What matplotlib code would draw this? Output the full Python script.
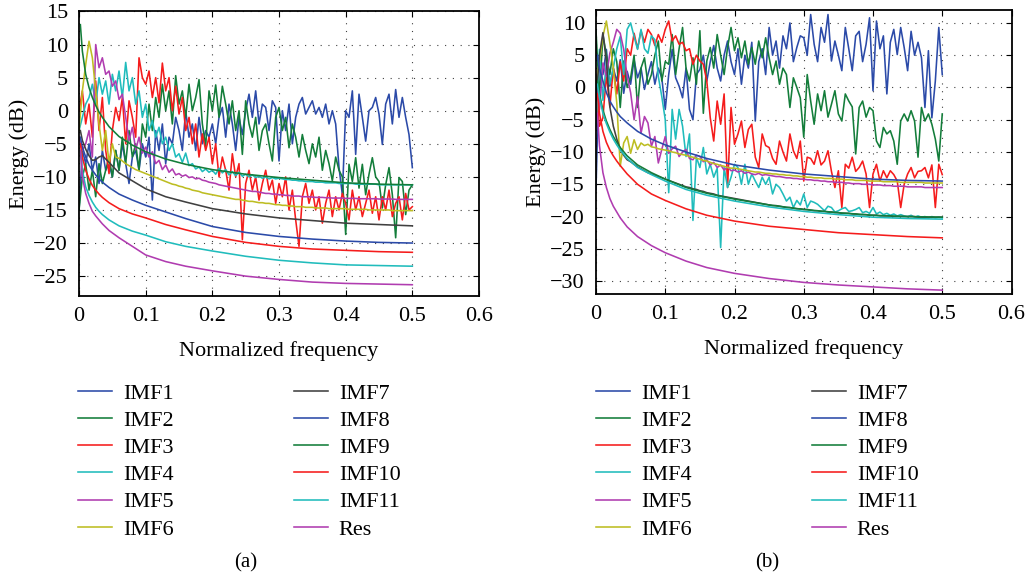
import numpy as np
import matplotlib
matplotlib.use("Agg")
import matplotlib.pyplot as plt

plt.rcParams['font.family'] = ['Liberation Serif', 'DejaVu Serif']
plt.rcParams['font.size'] = 16

labels = ['IMF1', 'IMF2', 'IMF3', 'IMF4', 'IMF5', 'IMF6',
          'IMF7', 'IMF8', 'IMF9', 'IMF10', 'IMF11', 'Res']
colors = ['#2b4aa8', '#137d3a', '#f51c1c', '#20bcbc', '#b03cb0', '#bdbd22',
          '#404040', '#2b4aa8', '#137d3a', '#f51c1c', '#20bcbc', '#b03cb0']

# frequency grid of the noisy spectra (step 0.005)
freq = np.arange(101) * 0.005
# frequencies where the smooth curves were read
knots = [0.002, 0.005, 0.01, 0.015, 0.02, 0.025, 0.03, 0.035, 0.045, 0.06, 0.08,
         0.1, 0.13, 0.16, 0.2, 0.25, 0.3, 0.35, 0.4, 0.45, 0.5]

# ---------------- panel (a) ----------------
a_imf1 = [-15, -6, -8, -5, -9, -7, -11, -6, -9, -8,
          -10, -6, -9, -5, -8, -11, -7, -6, -9, -5,
          -7, -4, -13.5, -3, -6, -2, -8, -4, -5, -1,
          -3, -6, 0, -4, -2, -6, -1, -5, -3, -4,
          -2, -5, -1, 0.5, -4, 1, -2, -6, -1, -3.6,
          0, 2.5, -1, 3, -2, 1, 0.5, -3, 1.5, 0.5,
          -7.6, 0, -3, 1, -5, -1, 1, 2, -0.5, 0.5,
          1.5, -0.5, 0.5, -1, 1, -2, 0, -2, -8.6, -12.7,
          0, -1, 3, -6.6, 2.5, -1, -4.6, 0, 0.5, 2,
          -0.5, -5.1, 1, 2.5, -2, 3.2, -1, 2, -1, -3.6,
          -8.6]
a_imf2 = [-15, -10, -8, -12, -9, -13, -8, -11, -9, -7,
          -10, -6, -9, -4, -8, -3, -7, -5, -9, -2,
          -4, 1, -3, 2, -1, 4, 0, 3, -2, 5.3,
          1, 3, -1, 4, 0, 2, 4.7, -2, -5.4, 3,
          0, 3.9, -1, 3.7, 1, -2, 1.5, -3, 0, -6.6,
          1.5, -2, -4, -1, -6, -3, -2, -5, -7.6, -1,
          0.5, -3, -1, -5.6, -2, -4, -7, -3.6, -6, -8,
          -5, -7, -4, -9, -6, -8, -10.6, -7, -9, -10,
          -18.7, -8.1, -10.7, -7.1, -11.7, -8.1, -12.7, -9.6, -7.1, -10,
          -10.7, -14.7, -11.2, -8.6, -12.7, -19.2, -10.1, -10.7, -15.7, -12,
          -11.2]
a_imf3 = [0, 3, -2, 1, -4, 4.5, -3, 2, -6, -9.5,
          -3, 0.5, -1.5, 2, -5, 1.5, -1, -4, 8, 5,
          4, 6, 2, 5, 1.2, 7.2, 3, 5, 0, 3.7,
          -0.5, 2, -3, -1, -5, -2, -7, -3.5, -6, -4,
          -8, -5, -10, -7, -9, -12, -6.5, -10, -8, -19.5,
          -11, -9, -12, -10, -13.5, -11, -9, -12, -10.5, -14,
          -11, -13, -10, -15, -12, -16.5, -20.5, -13, -11, -14,
          -12, -15, -13, -17, -14, -12, -16, -13, -15, -12.5,
          -14, -16.5, -12, -15, -13, -16, -14, -12, -15.5, -13,
          -16.5, -13, -15, -12, -16, -14, -13, -16.5, -12.5, -15,
          -14.5]
a_imf4 = [-3, -1, 1, 2, 4, 1, 5, 2.5, 4.5, 1,
          5.5, 3, 6, 2, 7.3, 3, 5, 1, 3, -1,
          1, -3, -1.5, -4, -2.5, -5, -4, -6, -5, -7,
          -6.5, -7.8, -6.4, -8.3, -8, -8.8, -8.5, -9.2, -8.8, -9.3,
          -9, -9.6, -8.7, -9.4, -8.9, -9.7, -9.2, -9.8, -9.3, -9.9,
          -9.6, -10, -9.7, -10.1, -9.9, -10.2, -10, -10.3, -10.1, -10.3,
          -10.2, -10.3, -10.4, -10.4, -10.5, -10.5, -10.6, -10.6, -10.7, -10.7,
          -10.7, -10.8, -10.8, -10.8, -10.9, -10.9, -10.9, -10.9, -11, -11,
          -11, -11, -11, -11.1, -11.1, -11.1, -11.1, -11.1, -11.1, -11.1,
          -11.2, -11.2, -11.2, -11.2, -11.2, -11.2, -11.2, -11.2, -11.2, -11.2,
          -11.2]
a_imf5 = [-4, -6, -5, -3, -7, 10, 6.5, 8, 5.5, 6,
          3.7, 4.5, 1.7, 2.5, -1, -4.5, -2.5, -5.9, -4, -6.4,
          -5.5, -7, -6.2, -8, -7.5, -8.9, -8.2, -9.3, -8.8, -9.7,
          -9.5, -9.9, -9.7, -10.1, -10, -10.3, -10.2, -10.5, -10.6, -10.8,
          -10.9, -11, -11.2, -11.3, -11.4, -11.5, -11.6, -11.7, -11.8, -11.9,
          -12, -12.1, -12.2, -12.2, -12.3, -12.4, -12.5, -12.5, -12.6, -12.6,
          -12.7, -12.7, -12.8, -12.8, -12.9, -12.9, -12.9, -13, -13, -13,
          -13.05, -13.1, -13.1, -13.1, -13.15, -13.15, -13.2, -13.2, -13.2, -13.2,
          -13.25, -13.25, -13.25, -13.25, -13.3, -13.3, -13.3, -13.3, -13.3, -13.3,
          -13.35, -13.35, -13.35, -13.35, -13.35, -13.4, -13.4, -13.4, -13.4, -13.4,
          -13.4]
a_imf6 = [-3, 3, 7, 10.5, 8, 3, -2, -6, -3, -8,
          -5, -7, -7.2, -7.6, -8, -8.3, -8.6, -8.9, -9.1, -9.3,
          -9.5, -9.7, -9.9, -10.1, -10.3, -10.5, -10.7, -10.9, -11.1, -11.2,
          -11.4, -11.5, -11.7, -11.8, -12, -12.1, -12.2, -12.4, -12.5, -12.6,
          -12.7, -12.8, -12.9, -13, -13.1, -13.2, -13.3, -13.4, -13.4, -13.5,
          -13.6, -13.7, -13.7, -13.8, -13.9, -13.9, -14, -14, -14.1, -14.2,
          -14.2, -14.3, -14.3, -14.4, -14.4, -14.5, -14.5, -14.5, -14.6, -14.6,
          -14.6, -14.7, -14.7, -14.7, -14.7, -14.8, -14.8, -14.8, -14.8, -14.8,
          -14.8, -14.9, -14.9, -14.9, -14.9, -14.9, -14.9, -15, -15, -15,
          -15, -15, -15, -15, -15.1, -15.1, -15.1, -15.1, -15.1, -15.1,
          -15.1]
a_imf7 = [-3, -4.5, -5.8, -6.8, -7.5, -7.4, -7, -6.8, -7.8, -9.4, -10.6,
          -11.8, -13, -13.8, -14.8, -15.6, -16.2, -16.6, -17, -17.2, -17.4]
a_imf8 = [-4, -5.5, -7, -8.2, -9, -9.7, -10.3, -10.8, -11.6, -12.6, -13.5,
          -14.3, -15.3, -16.3, -17.5, -18.4, -19, -19.4, -19.7, -19.9, -20]
a_imf9 = [13, 9, 5.5, 3.5, 2, 0.8, -0.2, -1, -2.4, -3.9, -5.2,
          -6.2, -7.3, -8.1, -8.9, -9.6, -10.1, -10.5, -10.9, -11.1, -11.2]
a_imf10 = [-5, -7, -9, -10.3, -11.3, -12, -12.6, -13.1, -13.9, -14.8, -15.6,
           -16.2, -17.2, -18, -19, -19.9, -20.5, -20.9, -21.1, -21.3, -21.4]
a_imf11 = [-6, -9, -11.5, -12.8, -13.8, -14.6, -15.2, -15.7, -16.5, -17.4, -18.2,
           -18.8, -19.8, -20.5, -21.2, -22, -22.6, -23, -23.3, -23.4, -23.5]
a_res = [-6, -10, -12.5, -14, -15.2, -15.9, -16.5, -17.1, -18.1, -19.2, -20.5,
         -21.8, -22.8, -23.5, -24.2, -25, -25.5, -25.9, -26.1, -26.2, -26.3]

# ---------------- panel (b) ----------------
b_imf1 = [-15.8, 5, 2, 5.9, 0.2, 3, 1, 4.3, -0.9, 2.5,
          0.5, 4.3, 1.5, 3, -0.3, 2, 4, 0.5, 3, 1.5,
          -3.4, 2, 5.9, 1.5, 0.2, -1.6, 3, -3.4, -5, 2,
          2.8, 5, 1, 4, 6.5, 3, 1, 5, 7.2, 4,
          2, 6, 0.5, 5, 3, 7, -5.2, 4, 6, 2,
          9.3, 5, 7.2, 3, 8, 6, 10, 4, 6.2, 8,
          7.7, 5, 11.3, 6.7, 4, 9.3, 7, 11.3, 4.1, 7.2,
          5, 2.6, 9.3, 6, 2.6, 8, 8.7, 4, 6.7, 10.8,
          -0.5, 10.3, 6, 8, -1, 7, 9, 5.1, 9.3, 6.2,
          2.6, 8.7, 5, 7, 4.6, -3.1, 5.7, -4.7, 1, 9.3,
          2]
b_imf2 = [8.8, -1.6, 8.2, 5, 2, 6, 4, -3.1, 4.1, 0,
          1.5, 5, -3.1, 3, 4.6, 0.5, 2, 5, 7.2, 1,
          4, 3.6, 8.2, 2, 6, 9.3, 3, 1, 4.6, 0.5,
          8.8, -4, 4.1, 6.2, 3, 8.2, 5, 2, 6.2, 9.3,
          5.7, 7.7, 4.6, 7.2, 3.6, 6.2, 3.6, 7.2, 4.6, 7.7,
          4.6, 2, 4.1, 0.5, 3, 2, -3.1, 1.5, 0, -1.6,
          -7.7, 2, -2.1, -5.7, -1, -3.6, -0.5, -4.6, -2.6, -0.5,
          -4.1, -5.2, -1, -2.1, -3, -10.3, -3.1, -2.1, -4.6, -3.1,
          -3.6, -8.3, -9.3, -6.2, -7.2, -6.7, -8.3, -11.9, -5.2, -4.1,
          -5.2, -3.6, -5.2, -10.8, -3.1, -5.2, -4.1, -5.7, -8, -11.4,
          -4.1]
b_imf3 = [-0.5, -6, -4.7, 2, -3, 3, -1, 4, 1, 6,
          5, 8.4, 6, 8.8, 7, 9, 8.2, 6.5, 8.2, 7,
          9, 10.3, 7.2, 8, 6.7, 7, 5.7, 6, 3.6, 5,
          4.1, 3.6, 1, -4.7, -8.3, -2.1, -5.7, -1, -15.5, -3.1,
          -8.8, -7.2, -5.2, -9.3, -6.5, -5.7, -10.8, -12.4, -7.2, -9,
          -9.3, -11, -11.9, -8.3, -10, -11.4, -7.2, -9.8, -11, -8.3,
          -14.5, -10.8, -11, -11.9, -9.8, -12, -11.4, -9.8, -13, -15.5,
          -12.9, -18.6, -11.9, -12.5, -10.8, -13, -12.4, -11.4, -13.4, -18.6,
          -13.4, -11.9, -14.5, -12.9, -14, -12.9, -13.5, -14.5, -18.6, -15,
          -13.4, -12.4, -14, -13, -12.9, -12.4, -14, -12, -18.6, -11.9,
          -13.5]
b_imf4 = [-6, 5.9, -2, 4, 0.5, 3, 6, 7.9, 2, 9,
          10, 7.9, 5.9, 9, 6, 5.3, 8, 7.4, 1.7, -1.4,
          -5, -16.3, -3.4, -8, -3.4, -6, -10.7, -7.2, -20.6, -10.8,
          -12.4, -9.3, -13.4, -11.9, -13.9, -12.5, -24.8, -12.4, -15.5, -13.9,
          -11.9, -12.4, -15, -11.9, -15, -13.4, -14.5, -15.5, -13.9, -15,
          -13.9, -16.5, -15, -15.5, -16.5, -17.6, -17, -18.6, -17.5, -18.2,
          -16.5, -18.6, -17.6, -17.8, -18.1, -18.6, -19.1, -18.4, -18.6, -19.3,
          -19.1, -18.8, -18.6, -19.2, -19.1, -18.9, -18.6, -19.4, -19.2, -19.5,
          -18.6, -19.6, -19.3, -19.7, -19.5, -19.8, -19.6, -19.9, -19.7, -19.9,
          -20, -19.8, -20.1, -19.9, -20.1, -20, -20.2, -20, -20.2, -20.1,
          -20.2]
b_imf5 = [2, -3.4, 3.8, 1.7, 5.3, 7, 9, 8.4, 5.9, 1.7,
          -0.8, -5, -1.4, -7.1, -4.5, -5.5, -9.1, -7.6, -11.7, -9.6,
          -7.6, -10.2, -9.5, -9.1, -10.7, -10, -9.6, -11, -11.2, -10.5,
          -10.7, -11.5, -11.2, -12, -11.6, -12.4, -12, -12.8, -12.3, -12.9,
          -12.8, -13.1, -12.9, -13.3, -13.1, -13.4, -13.5, -13.3, -13.6, -13.5,
          -13.6, -13.7, -13.8, -13.8, -13.9, -14, -14, -14.1, -14.1, -14.2,
          -14.2, -14.3, -14.3, -14.4, -14.4, -14.5, -14.5, -14.6, -14.6, -14.7,
          -14.7, -14.7, -14.8, -14.8, -14.9, -14.9, -14.9, -15, -15, -15,
          -15.1, -15.1, -15.1, -15.2, -15.2, -15.2, -15.3, -15.3, -15.3, -15.3,
          -15.4, -15.4, -15.4, -15.4, -15.4, -15.5, -15.5, -15.5, -15.5, -15.5,
          -15.5]
b_imf6 = [0.7, 4, 7.9, 10.3, 6.9, 3, -2.4, -12.2, -8.6, -7.6,
          -10.2, -8.1, -9.6, -8.6, -9, -8.8, -9.2, -9.3, -9.5, -9.6,
          -9.7, -9.8, -10, -10.1, -10.3, -10.4, -10.5, -10.7, -10.8, -11,
          -11.1, -11.3, -11.4, -11.6, -11.8, -11.9, -12.1, -12.2, -12.4, -12.5,
          -12.5, -12.6, -12.7, -12.8, -12.9, -13, -13.1, -13.1, -13.2, -13.3,
          -13.3, -13.4, -13.4, -13.5, -13.5, -13.6, -13.6, -13.7, -13.7, -13.8,
          -13.8, -13.9, -13.9, -14, -14, -14, -14.1, -14.1, -14.1, -14.2,
          -14.2, -14.2, -14.3, -14.3, -14.3, -14.4, -14.4, -14.4, -14.4, -14.5,
          -14.5, -14.5, -14.5, -14.6, -14.6, -14.6, -14.6, -14.6, -14.7, -14.7,
          -14.7, -14.7, -14.7, -14.7, -14.7, -14.8, -14.8, -14.8, -14.8, -14.8,
          -14.8]
b_imf7 = [-2, 5, 8.5, 4, -3, -6, -8, -9.5, -10.5, -11.2,
          -11.5, -11.9, -12.3, -12.6, -12.9, -13.2, -13.4, -13.6, -13.8, -14,
          -14.2, -14.4, -14.6, -14.8, -15, -15.2, -15.4, -15.5, -15.7, -15.8,
          -16, -16.1, -16.3, -16.4, -16.5, -16.7, -16.8, -16.9, -17, -17.1,
          -17.2, -17.3, -17.4, -17.5, -17.6, -17.7, -17.8, -17.9, -18, -18.1,
          -18.2, -18.3, -18.3, -18.4, -18.5, -18.6, -18.6, -18.7, -18.8, -18.8,
          -18.9, -18.9, -19, -19.1, -19.1, -19.2, -19.2, -19.3, -19.3, -19.4,
          -19.4, -19.5, -19.5, -19.5, -19.6, -19.6, -19.7, -19.7, -19.7, -19.8,
          -19.8, -19.8, -19.9, -19.9, -19.9, -19.9, -20, -20, -20, -20,
          -20, -20, -20, -20.1, -20.1, -20.1, -20.1, -20.1, -20.1, -20.1,
          -20.1]
b_imf8 = [5, 3, 1, -0.8, -2.1, -3, -3.8, -4.5, -5.5, -6.8, -8,
          -8.9, -10, -11, -12, -12.8, -13.4, -13.8, -14.2, -14.4, -14.5]
b_imf9 = [1, -1, -3.5, -5.2, -6.5, -7.6, -8.5, -9.3, -10.6, -12, -13.2,
          -14.2, -15.5, -16.4, -17.3, -18.2, -18.9, -19.4, -19.8, -20, -20.1]
b_imf10 = [-1, -4, -6.8, -8.5, -9.7, -10.6, -11.4, -12.1, -13.4, -15, -16.5,
           -17.5, -18.8, -19.8, -20.7, -21.5, -22, -22.5, -22.8, -23.1, -23.3]
b_imf11 = [0.5, -1.5, -4, -5.6, -6.9, -8, -8.9, -9.7, -11, -12.4, -13.5,
           -14.5, -15.8, -16.7, -17.6, -18.5, -19.2, -19.7, -20.1, -20.3, -20.4]
b_res = [-4, -9, -13.2, -15.5, -17.2, -18.4, -19.3, -20.2, -21.6, -23.1, -24.5,
         -25.6, -26.9, -27.9, -28.8, -29.6, -30.2, -30.6, -30.9, -31.2, -31.4]

panel_a = [a_imf1, a_imf2, a_imf3, a_imf4, a_imf5, a_imf6,
           a_imf7, a_imf8, a_imf9, a_imf10, a_imf11, a_res]
panel_b = [b_imf1, b_imf2, b_imf3, b_imf4, b_imf5, b_imf6,
           b_imf7, b_imf8, b_imf9, b_imf10, b_imf11, b_res]

fig = plt.figure(figsize=(10.29, 5.79), dpi=100)
ax_a = fig.add_axes([0.0768, 0.4888, 0.3887, 0.4914])
ax_b = fig.add_axes([0.5792, 0.4922, 0.4038, 0.4905])


def draw(ax, series, ylim, yticks):
    lines = []
    for vals, c, lab in zip(series, colors, labels):
        x = freq if len(vals) == len(freq) else knots
        ln, = ax.plot(x, vals, color=c, lw=1.15, label=lab)
        lines.append(ln)
    ax.set_xlim(0, 0.6)
    ax.set_ylim(*ylim)
    ax.set_xticks([0, 0.1, 0.2, 0.3, 0.4, 0.5, 0.6])
    ax.set_xticklabels(['0', '0.1', '0.2', '0.3', '0.4', '0.5', '0.6'])
    ax.set_yticks(yticks)
    ax.grid(True, color='0.25', linestyle=(0, (1, 6)), lw=0.8)
    ax.tick_params(direction='in', top=True, right=True, length=4, labelsize=16)
    ax.tick_params(axis='x', pad=8)
    ax.tick_params(axis='y', pad=8)
    for s in ax.spines.values():
        s.set_linewidth(1.3)
    ax.set_xlabel('Normalized frequency', fontsize=16, labelpad=11)
    ax.set_ylabel('Energy (dB)', fontsize=16, labelpad=3)
    return lines


la = draw(ax_a, panel_a, (-28, 15), [-25, -20, -15, -10, -5, 0, 5, 10, 15])
lb = draw(ax_b, panel_b, (-32, 12), [-30, -25, -20, -15, -10, -5, 0, 5, 10])

for lines, x0 in [(la, 78 / 1029), (lb, 596 / 1029)]:
    fig.legend(handles=lines, loc='upper left', bbox_to_anchor=(x0, 1 - 383 / 579),
               ncol=2, frameon=False, fontsize=16, borderpad=0, borderaxespad=0,
               handlelength=1.53, handletextpad=0.5, labelspacing=0.3,
               columnspacing=5.4)

fig.text(246 / 1029, 1 - 563 / 579, '(a)', ha='center', va='center', fontsize=15)
fig.text(767 / 1029, 1 - 563 / 579, '(b)', ha='center', va='center', fontsize=15)

fig.savefig('out.png', dpi=100)
